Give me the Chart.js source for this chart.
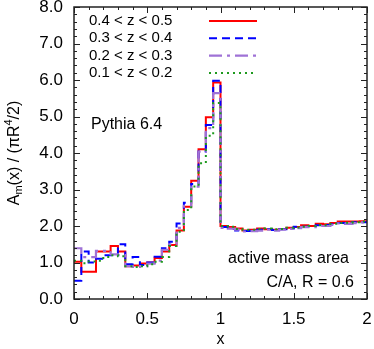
<!DOCTYPE html>
<html>
<head>
<meta charset="utf-8">
<script src="https://cdn.jsdelivr.net/npm/chart.js@4"></script>
<style>
  html, body { margin: 0; padding: 0; background: #fff; }
  #wrap { width: 374px; height: 349px; }
</style>
</head>
<body>
<div id="wrap"><canvas id="hist"></canvas></div>
<script>
// bin width 0.05, 40 bins from x = 0 to 2
const binEdges = [];
for (let i = 0; i <= 40; i++) binEdges.push(+(i * 0.05).toFixed(2));

const labels = ['0.4 < z < 0.5', '0.3 < z < 0.4', '0.2 < z < 0.3', '0.1 < z < 0.2'];

const z45 = [1.02, 0.75, 0.75, 1.30, 1.30, 1.45, 1.30, 0.90, 0.92, 0.97,
             1.00, 1.12, 1.30, 1.48, 1.88, 2.53, 3.24, 4.10, 4.98, 5.93,
             2.00, 1.97, 1.93, 1.88, 1.90, 1.93, 1.91, 1.90, 1.92, 1.95,
             1.97, 2.02, 2.00, 2.06, 2.05, 2.08, 2.12, 2.12, 2.12, 2.13];
const z34 = [0.50, 1.30, 1.00, 1.10, 1.20, 1.20, 1.50, 0.95, 1.15, 0.93,
             1.00, 1.16, 1.39, 1.57, 2.07, 2.64, 3.15, 4.04, 4.77, 5.98,
             1.97, 1.92, 1.88, 1.86, 1.87, 1.90, 1.92, 1.89, 1.91, 1.93,
             1.98, 1.98, 2.00, 2.02, 2.03, 2.05, 2.08, 2.07, 2.10, 2.10];
const z23 = [1.39, 1.15, 1.15, 1.32, 1.32, 1.22, 1.20, 0.90, 0.88, 0.90,
             0.97, 1.05, 1.35, 1.50, 1.95, 2.55, 3.08, 4.04, 4.68, 5.64,
             1.95, 1.93, 1.90, 1.85, 1.86, 1.87, 1.90, 1.87, 1.90, 1.92,
             1.94, 1.97, 1.97, 2.00, 2.00, 2.03, 2.07, 2.06, 2.08, 2.10];
const z12 = [1.05, 0.98, 1.03, 1.05, 1.15, 1.20, 1.17, 0.90, 0.88, 0.90,
             0.95, 1.02, 1.15, 1.45, 1.84, 2.44, 3.08, 3.72, 4.47, 5.37,
             2.00, 1.98, 1.92, 1.90, 1.90, 1.92, 1.93, 1.91, 1.92, 1.95,
             1.96, 1.98, 2.00, 2.03, 2.02, 2.06, 2.08, 2.09, 2.10, 2.12];

const xTicks = [0, 0.5, 1, 1.5, 2];
const yTicks = [0, 1, 2, 3, 4, 5, 6, 7, 8];

const FONT = "'Liberation Sans', Arial, sans-serif";

// histogram outline: each bin value held from its left edge to the right edge
function steps(vals) {
  const pts = vals.map((v, i) => ({ x: binEdges[i], y: v }));
  pts.push({ x: binEdges[vals.length], y: vals[vals.length - 1] });
  return pts;
}

const styles = [
  { color: '#ff0000', dash: [], width: 2 },
  { color: '#0000ff', dash: [8, 5], width: 2 },
  { color: '#9f72d6', dash: [13, 5, 3, 5], width: 2.2 },
  { color: '#1e9a1e', dash: [2, 4], width: 2 }
];

const series = [z45, z34, z23, z12];

const datasets = series.map((vals, i) => ({
  label: labels[i],
  data: steps(vals),
  stepped: 'before',
  borderColor: styles[i].color,
  borderDash: styles[i].dash,
  borderWidth: styles[i].width,
  pointRadius: 0,
  fill: false,
  order: 4 - i
}));

// inward ticks on all four sides, gnuplot style
const frameTicks = {
  id: 'frameTicks',
  afterDraw(chart) {
    const { ctx, chartArea: a, scales } = chart;
    const xs = scales.x, ys = scales.y;
    ctx.save();
    ctx.strokeStyle = '#222';
    ctx.lineWidth = 1;
    for (let k = 0; k <= 20; k++) {
      const v = k * 0.1;
      const px = Math.round(xs.getPixelForValue(v)) + 0.5;
      const len = (k % 5 === 0) ? 6 : 3;
      ctx.beginPath();
      ctx.moveTo(px, a.bottom); ctx.lineTo(px, a.bottom - len);
      ctx.moveTo(px, a.top); ctx.lineTo(px, a.top + len);
      ctx.stroke();
    }
    for (let k = 0; k <= 40; k++) {
      const v = k * 0.2;
      const py = Math.round(ys.getPixelForValue(v)) + 0.5;
      const len = (k % 5 === 0) ? 6 : 3;
      ctx.beginPath();
      ctx.moveTo(a.left, py); ctx.lineTo(a.left + len, py);
      ctx.moveTo(a.right, py); ctx.lineTo(a.right - len, py);
      ctx.stroke();
    }
    ctx.lineWidth = 1.5;
    ctx.strokeRect(a.left, a.top, a.right - a.left, a.bottom - a.top);
    ctx.restore();
  }
};

// key, labels and axis titles
const textLayer = {
  id: 'textLayer',
  afterDraw(chart) {
    const { ctx, chartArea: a } = chart;
    ctx.save();
    ctx.fillStyle = '#000';
    ctx.textBaseline = 'middle';

    // key
    ctx.font = '15px ' + FONT;
    labels.forEach((lab, i) => {
      const y = 21 + i * 17.3;
      ctx.textAlign = 'left';
      ctx.fillText(lab, 89, y);
      ctx.beginPath();
      ctx.strokeStyle = styles[i].color;
      ctx.lineWidth = styles[i].width;
      ctx.setLineDash(styles[i].dash);
      ctx.moveTo(209, y); ctx.lineTo(257, y);
      ctx.stroke();
    });
    ctx.setLineDash([]);

    ctx.font = '16px ' + FONT;
    ctx.textAlign = 'left';
    ctx.fillText('Pythia 6.4', 91, 125);
    ctx.textAlign = 'right';
    ctx.fillText('active mass area', 349, 259);
    ctx.fillText('C/A, R = 0.6', 354, 283);

    // x title
    ctx.textAlign = 'center';
    ctx.fillText('x', (a.left + a.right) / 2, 340);

    // y title with sub/superscript, rotated
    const big = '16px ' + FONT, small = '11px ' + FONT;
    const parts = [
      { t: 'A', f: big, dy: 0 },
      { t: 'm', f: small, dy: 4 },
      { t: '(x) / (\u03c0R', f: big, dy: 0 },
      { t: '4', f: small, dy: -6 },
      { t: '/2)', f: big, dy: 0 }
    ];
    let total = 0;
    parts.forEach(p => { ctx.font = p.f; p.w = ctx.measureText(p.t).width; total += p.w; });
    ctx.translate(15, (a.top + a.bottom) / 2);
    ctx.rotate(-Math.PI / 2);
    ctx.textAlign = 'left';
    let x = -total / 2;
    parts.forEach(p => { ctx.font = p.f; ctx.fillText(p.t, x, p.dy); x += p.w; });
    ctx.restore();
  }
};

const ctx = document.getElementById('hist').getContext('2d');
new Chart(ctx, {
  type: 'line',
  data: { datasets: datasets },
  options: {
    responsive: true,
    maintainAspectRatio: false,
    animation: false,
    layout: { padding: { left: 0, right: 7, top: 7, bottom: 0 } },
    plugins: { legend: { display: false }, tooltip: { enabled: false } },
    scales: {
      x: {
        type: 'linear',
        min: 0, max: 2,
        afterFit: s => { s.height = 50; s.paddingLeft = 0; s.paddingRight = 0; },
        afterBuildTicks: s => { s.ticks = xTicks.map(v => ({ value: v })); },
        grid: { display: false, drawTicks: false },
        border: { display: false },
        ticks: { color: '#000', font: { family: FONT, size: 17 }, padding: 10,
                 autoSkip: false, maxRotation: 0, callback: v => String(v) }
      },
      y: {
        type: 'linear',
        min: 0, max: 8,
        afterFit: s => { s.width = 74; s.paddingTop = 0; s.paddingBottom = 0; },
        afterBuildTicks: s => { s.ticks = yTicks.map(v => ({ value: v })); },
        grid: { display: false, drawTicks: false },
        border: { display: false },
        ticks: { color: '#000', font: { family: FONT, size: 17 }, padding: 11,
                 autoSkip: false, callback: v => v.toFixed(1) }
      }
    }
  },
  plugins: [frameTicks, textLayer]
});
</script>
</body>
</html>
